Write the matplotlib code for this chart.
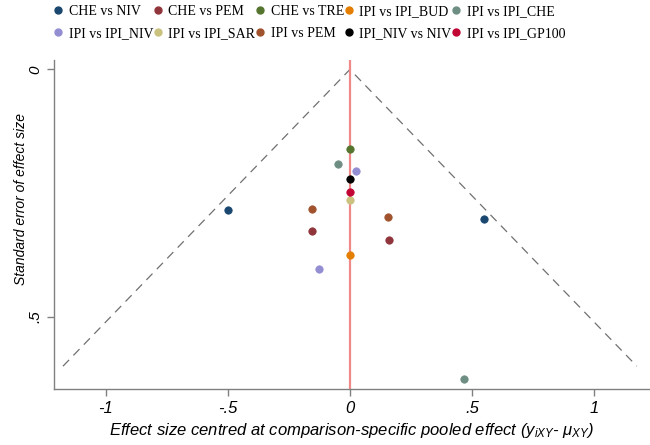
import matplotlib
matplotlib.use("Agg")
import matplotlib.pyplot as plt
from matplotlib.lines import Line2D

plt.rcParams['mathtext.fontset'] = 'custom'
plt.rcParams['mathtext.it'] = 'Liberation Sans:italic'
plt.rcParams['mathtext.rm'] = 'Liberation Sans:italic'

# Comparisons (legend order, row-major)
comparisons = ["CHE vs NIV", "CHE vs PEM", "CHE vs TRE", "IPI vs IPI_BUD", "IPI vs IPI_CHE",
               "IPI vs IPI_NIV", "IPI vs IPI_SAR", "IPI vs PEM", "IPI_NIV vs NIV", "IPI vs IPI_GP100"]
colors = ["#1a476f", "#90353b", "#55752f", "#e37e00", "#6e8e84",
          "#938dd2", "#cac27e", "#a0522d", "#000000", "#c10534"]

# Centred effect sizes and standard errors per comparison
effects = {
    "CHE vs NIV": [-0.50, 0.55],
    "CHE vs PEM": [-0.157, 0.161],
    "CHE vs TRE": [0.0],
    "IPI vs IPI_BUD": [0.0],
    "IPI vs IPI_CHE": [-0.05, 0.468],
    "IPI vs IPI_NIV": [0.023, -0.127],
    "IPI vs IPI_SAR": [0.0],
    "IPI vs PEM": [-0.155, 0.157],
    "IPI_NIV vs NIV": [0.0],
    "IPI vs IPI_GP100": [0.0],
}
std_errors = {
    "CHE vs NIV": [0.284, 0.303],
    "CHE vs PEM": [0.327, 0.345],
    "CHE vs TRE": [0.161],
    "IPI vs IPI_BUD": [0.375],
    "IPI vs IPI_CHE": [0.191, 0.626],
    "IPI vs IPI_NIV": [0.206, 0.403],
    "IPI vs IPI_SAR": [0.263],
    "IPI vs PEM": [0.283, 0.298],
    "IPI_NIV vs NIV": [0.222],
    "IPI vs IPI_GP100": [0.248],
}
funnel_se_max = 0.60
x_ticks = [-1, -0.5, 0, 0.5, 1]
x_ticklabels = ["-1", "-.5", "0", ".5", "1"]
y_ticks = [0, 0.5]
y_ticklabels = ["0", ".5"]

fig = plt.figure(figsize=(6.5, 4.45), dpi=100)
ax = fig.add_axes([0.083, 0.126, 0.917, 0.739])

# funnel
ax.plot([-1.96 * funnel_se_max, 0, 1.96 * funnel_se_max], [funnel_se_max, 0, funnel_se_max],
        color="#707070", lw=0.9, ls=(0, (7, 5)), zorder=1)
ax.axvline(0, color="#f08a8a", lw=1.6, zorder=2)

for name, c in zip(comparisons, colors):
    ax.scatter(effects[name], std_errors[name], s=28, color=c, edgecolors=c,
               linewidths=0.6, zorder=3)

ax.set_xlim(-1.213, 1.23)
ax.set_ylim(0.646, -0.019)
ax.set_xticks(x_ticks)
ax.set_xticklabels(x_ticklabels, fontsize=12, fontstyle="italic", family="Liberation Sans")
ax.set_yticks(y_ticks)
ax.set_yticklabels(y_ticklabels, fontsize=11, fontstyle="italic", family="Liberation Sans",
                   rotation=90, va="center")
for s in ["top", "right"]:
    ax.spines[s].set_visible(False)
for s in ["left", "bottom"]:
    ax.spines[s].set_color("#808080")
    ax.spines[s].set_linewidth(1.0)
ax.tick_params(colors="#808080", length=5, width=1.0, labelcolor="black")
ax.tick_params(axis="y", pad=3)

ax.set_ylabel("Standard error of effect size", fontsize=10, fontstyle="italic",
              family="Liberation Sans")
ax.yaxis.set_label_coords(-0.044, 0.578)
ax.set_xlabel(r"Effect size centred at comparison-specific pooled effect ($y_{iXY}$- $\mu_{XY}$)",
              fontsize=12, fontstyle="italic", family="Liberation Sans", labelpad=4)

handles = [Line2D([], [], marker="o", ls="", color=c, markersize=5) for c in colors]
# reorder so matplotlib's column-major fill gives row-major reading order
order = [0, 5, 1, 6, 2, 7, 3, 8, 4, 9]
leg = fig.legend([handles[i] for i in order], [comparisons[i] for i in order],
                 loc="upper left", bbox_to_anchor=(54 / 650, 0.988), ncol=5,
                 frameon=False, prop={"family": "Liberation Serif", "size": 10},
                 handlelength=0.6, handletextpad=0.45, columnspacing=0.05, labelspacing=0.6,
                 borderpad=0, borderaxespad=0)

fig.savefig("out.png", dpi=100)
